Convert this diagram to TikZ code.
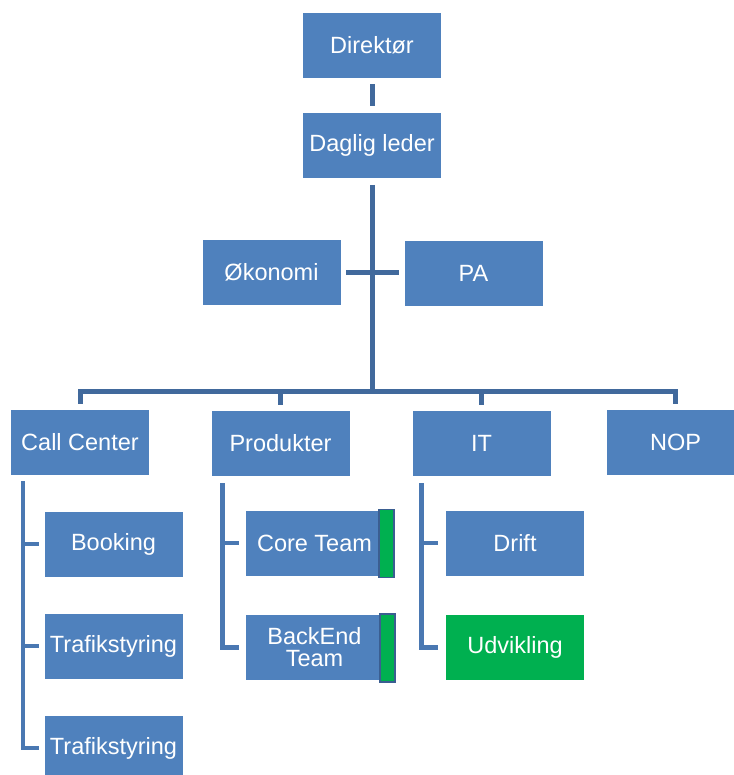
\documentclass[tikz,border=0pt]{standalone}
\usepackage{fontspec}
\setmainfont{Liberation Sans}
\definecolor{boxblue}{HTML}{4F81BD}
\definecolor{linemain}{HTML}{41699C}
\definecolor{linesub}{HTML}{4A78B2}
\definecolor{greenfill}{HTML}{00B050}
\definecolor{greenedge}{HTML}{3B5E91}
\begin{document}
\begin{tikzpicture}[x=1pt,y=-1pt,
  orgbox/.style={rectangle, fill=boxblue, draw=white, line width=0.6pt,
    minimum width=139pt, minimum height=66pt, inner sep=0pt,
    text=white, font=\fontsize{23.5}{22}\selectfont, align=center},
  greenbox/.style={orgbox, fill=greenfill},
  greenbar/.style={rectangle, fill=greenfill, draw=greenedge, line width=1.6pt,
    minimum width=15pt, minimum height=68pt, inner sep=0pt},
  mainline/.style={draw=linemain, line width=5pt},
  subline/.style={draw=linesub, line width=4.5pt}]
\useasboundingbox (0,0) rectangle (733,775);
\fill[white] (0,0) rectangle (733,775);

\node[orgbox] (dir) at (372,45) {Direktør};
\node[orgbox] (dl) at (372,145.5) {Daglig leder};
\node[orgbox] (ok) at (271.5,272.5) {Økonomi};
\node[orgbox] (pa) at (473.5,273) {PA};
\node[orgbox] (cc) at (80,442) {Call Center};
\node[orgbox] (prod) at (280.5,443) {Produkter};
\node[orgbox] (it) at (481.5,443) {IT};
\node[orgbox] (nop) at (675.5,442.5) {NOP};
\node[orgbox] (bk) at (113.5,544) {Booking};
\node[orgbox] (tr1) at (113.5,646) {Trafikstyring};
\node[orgbox] (tr2) at (113.5,748) {Trafikstyring};
\node[orgbox] (ct) at (314.5,543) {Core Team};
\node[orgbox] (be) at (314.5,647.5) {BackEnd\\Team};
\node[greenbar] (ctg) at (386.5,543.5) {};
\node[greenbar] (beg) at (387.5,648) {};
\node[orgbox] (dr) at (515,543) {Drift};
\node[greenbox] (ud) at (515,647.5) {Udvikling};

\coordinate (bar) at (0,391);

% top chain
\draw[mainline] ([yshift=-6pt]dir.south) -- ([yshift=6pt]dl.north);
\draw[mainline] ([yshift=-6pt]dl.south) -- (dl.south |- bar);
\draw[mainline] ([xshift=5pt]ok.east) -- ([xshift=-5pt]pa.west |- ok.east);
% department bar
\draw[mainline] ([yshift=5pt]cc.north) -- (cc.north |- bar) -- (nop.north |- bar) -- ([yshift=5pt]nop.north);
\draw[mainline] (prod.north |- bar) -- ([yshift=5pt]prod.north);
\draw[mainline] (it.north |- bar) -- ([yshift=5pt]it.north);

% Call Center subtree
\coordinate (ccl) at ([xshift=13pt,yshift=-6pt]cc.south west);
\draw[subline] (ccl) |- ([xshift=-5pt]tr2.west);
\draw[subline] (ccl |- bk.west) -- ([xshift=-5pt]bk.west);
\draw[subline] (ccl |- tr1.west) -- ([xshift=-5pt]tr1.west);

% Produkter subtree
\coordinate (prl) at ([xshift=12pt,yshift=-7pt]prod.south west);
\draw[subline] (prl) |- ([xshift=-6pt]be.west);
\draw[subline] (prl |- ct.west) -- ([xshift=-6pt]ct.west);

% IT subtree
\coordinate (itl) at ([xshift=10pt,yshift=-7pt]it.south west);
\draw[subline] (itl) |- ([xshift=-7pt]ud.west);
\draw[subline] (itl |- dr.west) -- ([xshift=-7pt]dr.west);
\end{tikzpicture}
\end{document}
